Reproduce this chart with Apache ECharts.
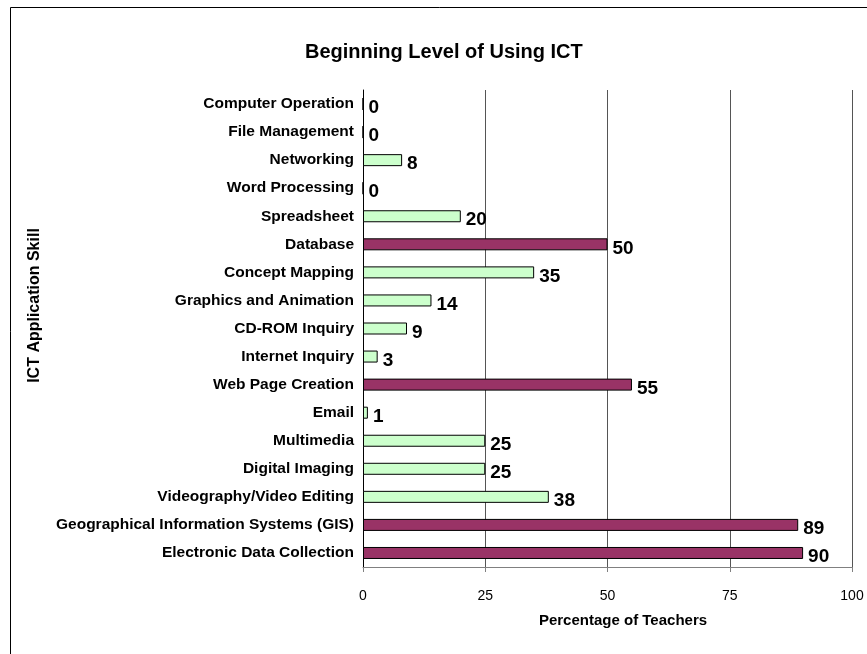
<!DOCTYPE html>
<html>
<head>
<meta charset="utf-8">
<script src="https://cdn.jsdelivr.net/npm/echarts@6/dist/echarts.min.js"></script>
<style>
  html, body { margin: 0; padding: 0; background: #fff; }
  #chart { width: 867px; height: 654px; }
</style>
</head>
<body>
<div id="chart"></div>
<script>
// categories listed top to bottom
const skills = [
  'Computer Operation', 'File Management', 'Networking', 'Word Processing',
  'Spreadsheet', 'Database', 'Concept Mapping', 'Graphics and Animation',
  'CD-ROM Inquiry', 'Internet Inquiry', 'Web Page Creation', 'Email',
  'Multimedia', 'Digital Imaging', 'Videography/Video Editing',
  'Geographical Information Systems (GIS)', 'Electronic Data Collection'
]
const percentages = [0, 0, 8, 0, 20, 50, 35, 14, 9, 3, 55, 1, 25, 25, 38, 89, 90]
// skills drawn in maroon
const highlighted = ['Database', 'Web Page Creation', 'Geographical Information Systems (GIS)', 'Electronic Data Collection']

const chart = echarts.init(document.getElementById('chart'))

const barData = percentages.map((v, i) => ({
  value: v,
  itemStyle: { color: highlighted.includes(skills[i]) ? '#993366' : '#CCFFCC' }
}))

chart.setOption({
  animation: false,
  textStyle: { fontFamily: 'Liberation Sans, Arial, sans-serif' },
  title: {
    text: 'Beginning Level of Using ICT',
    left: 300,
    top: 37,
    textStyle: { fontSize: 20, fontWeight: 'bold', color: '#000' }
  },
  graphic: [{
    type: 'rect',
    shape: { x: 10.5, y: 7.5, width: 900, height: 700 },
    style: { fill: 'none', stroke: '#000', lineWidth: 1 },
    silent: true
  }],
  grid: { left: 363, right: 15, top: 90, bottom: 87, containLabel: false },
  xAxis: {
    type: 'value',
    min: 0,
    max: 100,
    interval: 25,
    name: 'Percentage of Teachers',
    nameLocation: 'middle',
    nameGap: 46,
    nameTextStyle: { fontSize: 15, fontWeight: 'bold', color: '#000', padding: [0, 0, 0, 31] },
    axisLine: { show: true, lineStyle: { color: '#808080', width: 1 } },
    axisTick: { show: true, length: 5, lineStyle: { color: '#808080' } },
    axisLabel: { fontSize: 14, color: '#000', margin: 22 },
    splitLine: { show: true, lineStyle: { color: '#555', width: 1 } }
  },
  yAxis: {
    type: 'category',
    data: skills,
    inverse: true,
    name: 'ICT Application Skill',
    nameLocation: 'middle',
    nameGap: 320,
    nameRotate: 90,
    nameTextStyle: { fontSize: 16, fontWeight: 'bold', color: '#000', padding: [0, 0, 0, 46] },
    axisLine: { show: true, lineStyle: { color: '#000', width: 1 } },
    axisTick: { show: false },
    axisLabel: { fontSize: 15.5, fontWeight: 'bold', color: '#000', margin: 9 }
  },
  series: [{
    type: 'bar',
    data: barData,
    barWidth: 12,
    itemStyle: { borderColor: '#000', borderWidth: 1 },
    label: {
      show: true,
      position: 'right',
      distance: 5,
      fontSize: 19,
      fontWeight: 'bold',
      color: '#000',
      offset: [0, 4]
    }
  }]
})
</script>
</body>
</html>
